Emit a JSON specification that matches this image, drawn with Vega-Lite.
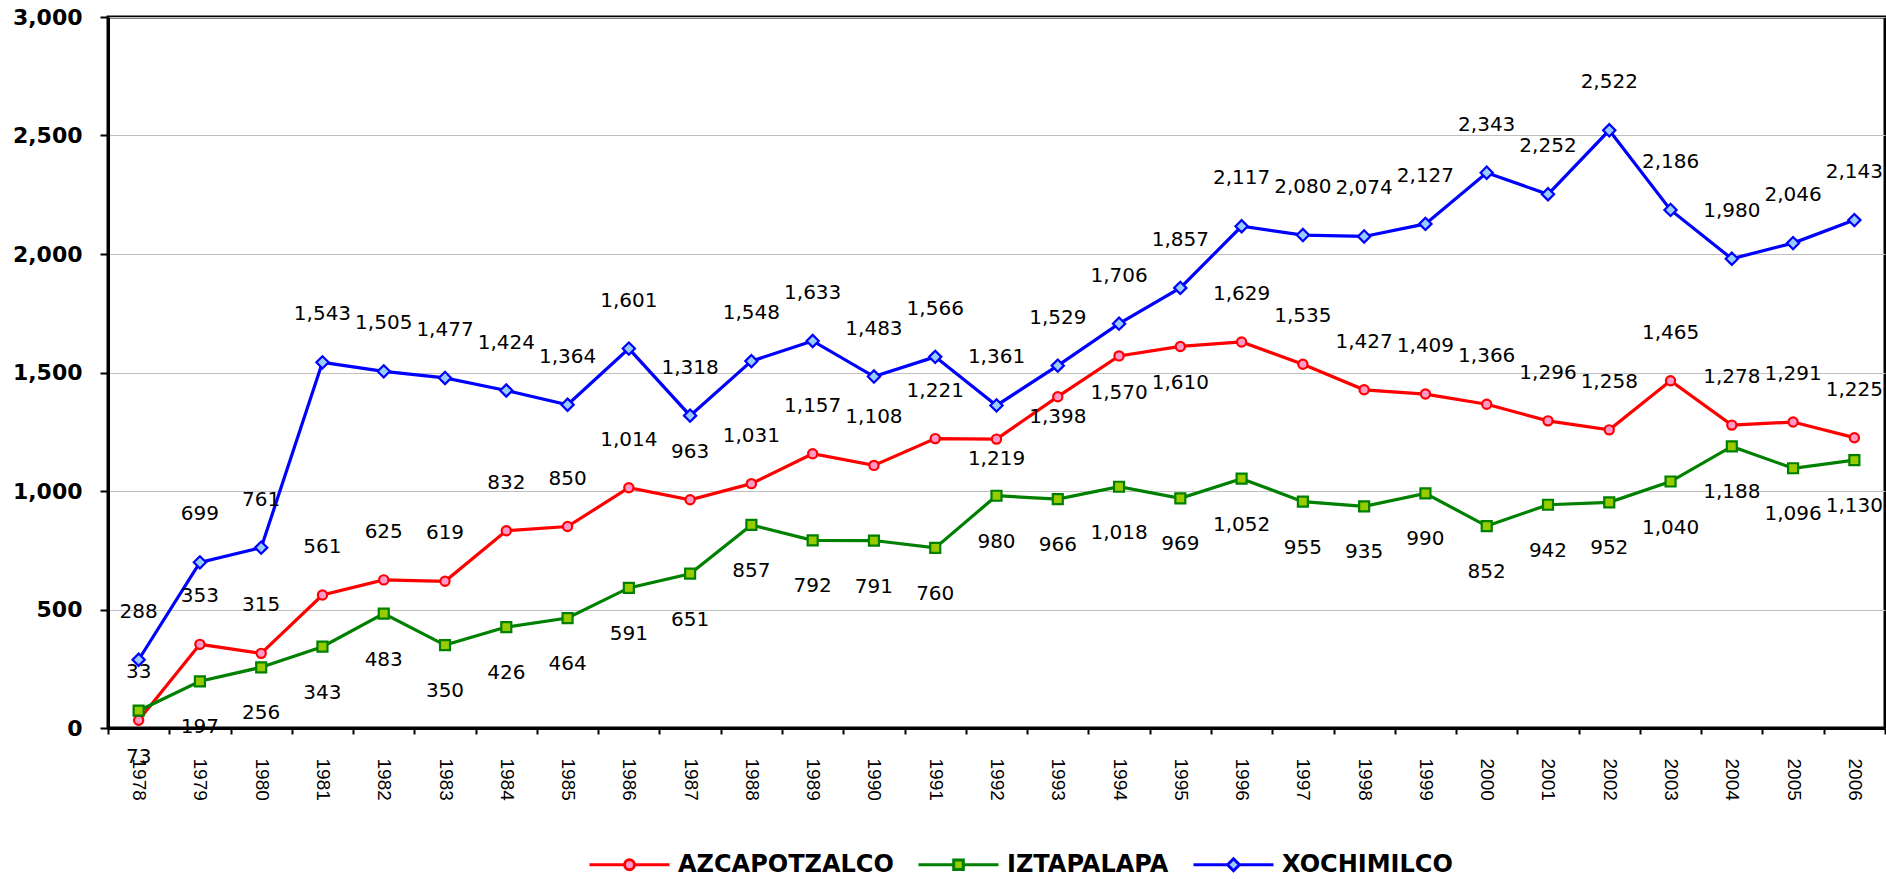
{
  "$schema": "https://vega.github.io/schema/vega-lite/v6.json",
  "width": 1777,
  "height": 711,
  "autosize": "none",
  "padding": {"left": 108, "top": 17, "right": 1, "bottom": 151},
  "background": "white",
  "config": {
    "view": {"stroke": "#000000", "strokeWidth": 3},
    "axis": {"labelColor": "#000000", "tickColor": "#000000", "domainColor": "#000000"},
    "legend": {
      "orient": "none",
      "legendX": 480,
      "legendY": 806,
      "direction": "horizontal",
      "padding": 0,
      "symbolSize": 6400,
      "symbolStrokeWidth": 3,
      "symbolOpacity": 1,
      "labelFont": "DejaVu Sans",
      "labelFontWeight": "bold",
      "labelFontSize": 24,
      "labelColor": "#000000",
      "labelOffset": 7,
      "labelLimit": 400,
      "columnPadding": 18
    }
  },
  "data": {
    "values": [
      {"year": 1978, "series": "AZCAPOTZALCO", "value": 33},
      {"year": 1979, "series": "AZCAPOTZALCO", "value": 353},
      {"year": 1980, "series": "AZCAPOTZALCO", "value": 315},
      {"year": 1981, "series": "AZCAPOTZALCO", "value": 561},
      {"year": 1982, "series": "AZCAPOTZALCO", "value": 625},
      {"year": 1983, "series": "AZCAPOTZALCO", "value": 619},
      {"year": 1984, "series": "AZCAPOTZALCO", "value": 832},
      {"year": 1985, "series": "AZCAPOTZALCO", "value": 850},
      {"year": 1986, "series": "AZCAPOTZALCO", "value": 1014},
      {"year": 1987, "series": "AZCAPOTZALCO", "value": 963},
      {"year": 1988, "series": "AZCAPOTZALCO", "value": 1031},
      {"year": 1989, "series": "AZCAPOTZALCO", "value": 1157},
      {"year": 1990, "series": "AZCAPOTZALCO", "value": 1108},
      {"year": 1991, "series": "AZCAPOTZALCO", "value": 1221},
      {"year": 1992, "series": "AZCAPOTZALCO", "value": 1219},
      {"year": 1993, "series": "AZCAPOTZALCO", "value": 1398},
      {"year": 1994, "series": "AZCAPOTZALCO", "value": 1570},
      {"year": 1995, "series": "AZCAPOTZALCO", "value": 1610},
      {"year": 1996, "series": "AZCAPOTZALCO", "value": 1629},
      {"year": 1997, "series": "AZCAPOTZALCO", "value": 1535},
      {"year": 1998, "series": "AZCAPOTZALCO", "value": 1427},
      {"year": 1999, "series": "AZCAPOTZALCO", "value": 1409},
      {"year": 2000, "series": "AZCAPOTZALCO", "value": 1366},
      {"year": 2001, "series": "AZCAPOTZALCO", "value": 1296},
      {"year": 2002, "series": "AZCAPOTZALCO", "value": 1258},
      {"year": 2003, "series": "AZCAPOTZALCO", "value": 1465},
      {"year": 2004, "series": "AZCAPOTZALCO", "value": 1278},
      {"year": 2005, "series": "AZCAPOTZALCO", "value": 1291},
      {"year": 2006, "series": "AZCAPOTZALCO", "value": 1225},
      {"year": 1978, "series": "IZTAPALAPA", "value": 73},
      {"year": 1979, "series": "IZTAPALAPA", "value": 197},
      {"year": 1980, "series": "IZTAPALAPA", "value": 256},
      {"year": 1981, "series": "IZTAPALAPA", "value": 343},
      {"year": 1982, "series": "IZTAPALAPA", "value": 483},
      {"year": 1983, "series": "IZTAPALAPA", "value": 350},
      {"year": 1984, "series": "IZTAPALAPA", "value": 426},
      {"year": 1985, "series": "IZTAPALAPA", "value": 464},
      {"year": 1986, "series": "IZTAPALAPA", "value": 591},
      {"year": 1987, "series": "IZTAPALAPA", "value": 651},
      {"year": 1988, "series": "IZTAPALAPA", "value": 857},
      {"year": 1989, "series": "IZTAPALAPA", "value": 792},
      {"year": 1990, "series": "IZTAPALAPA", "value": 791},
      {"year": 1991, "series": "IZTAPALAPA", "value": 760},
      {"year": 1992, "series": "IZTAPALAPA", "value": 980},
      {"year": 1993, "series": "IZTAPALAPA", "value": 966},
      {"year": 1994, "series": "IZTAPALAPA", "value": 1018},
      {"year": 1995, "series": "IZTAPALAPA", "value": 969},
      {"year": 1996, "series": "IZTAPALAPA", "value": 1052},
      {"year": 1997, "series": "IZTAPALAPA", "value": 955},
      {"year": 1998, "series": "IZTAPALAPA", "value": 935},
      {"year": 1999, "series": "IZTAPALAPA", "value": 990},
      {"year": 2000, "series": "IZTAPALAPA", "value": 852},
      {"year": 2001, "series": "IZTAPALAPA", "value": 942},
      {"year": 2002, "series": "IZTAPALAPA", "value": 952},
      {"year": 2003, "series": "IZTAPALAPA", "value": 1040},
      {"year": 2004, "series": "IZTAPALAPA", "value": 1188},
      {"year": 2005, "series": "IZTAPALAPA", "value": 1096},
      {"year": 2006, "series": "IZTAPALAPA", "value": 1130},
      {"year": 1978, "series": "XOCHIMILCO", "value": 288},
      {"year": 1979, "series": "XOCHIMILCO", "value": 699},
      {"year": 1980, "series": "XOCHIMILCO", "value": 761},
      {"year": 1981, "series": "XOCHIMILCO", "value": 1543},
      {"year": 1982, "series": "XOCHIMILCO", "value": 1505},
      {"year": 1983, "series": "XOCHIMILCO", "value": 1477},
      {"year": 1984, "series": "XOCHIMILCO", "value": 1424},
      {"year": 1985, "series": "XOCHIMILCO", "value": 1364},
      {"year": 1986, "series": "XOCHIMILCO", "value": 1601},
      {"year": 1987, "series": "XOCHIMILCO", "value": 1318},
      {"year": 1988, "series": "XOCHIMILCO", "value": 1548},
      {"year": 1989, "series": "XOCHIMILCO", "value": 1633},
      {"year": 1990, "series": "XOCHIMILCO", "value": 1483},
      {"year": 1991, "series": "XOCHIMILCO", "value": 1566},
      {"year": 1992, "series": "XOCHIMILCO", "value": 1361},
      {"year": 1993, "series": "XOCHIMILCO", "value": 1529},
      {"year": 1994, "series": "XOCHIMILCO", "value": 1706},
      {"year": 1995, "series": "XOCHIMILCO", "value": 1857},
      {"year": 1996, "series": "XOCHIMILCO", "value": 2117},
      {"year": 1997, "series": "XOCHIMILCO", "value": 2080},
      {"year": 1998, "series": "XOCHIMILCO", "value": 2074},
      {"year": 1999, "series": "XOCHIMILCO", "value": 2127},
      {"year": 2000, "series": "XOCHIMILCO", "value": 2343},
      {"year": 2001, "series": "XOCHIMILCO", "value": 2252},
      {"year": 2002, "series": "XOCHIMILCO", "value": 2522},
      {"year": 2003, "series": "XOCHIMILCO", "value": 2186},
      {"year": 2004, "series": "XOCHIMILCO", "value": 1980},
      {"year": 2005, "series": "XOCHIMILCO", "value": 2046},
      {"year": 2006, "series": "XOCHIMILCO", "value": 2143}
    ]
  },
  "resolve": {"scale": {"color": "independent", "fill": "independent", "shape": "independent"}},
  "encoding": {
    "x": {
      "field": "year",
      "type": "ordinal",
      "scale": {"type": "band", "paddingInner": 0, "paddingOuter": 0},
      "axis": {
        "title": null,
        "labelAngle": 90,
        "labelFont": "Liberation Sans",
        "labelFontSize": 19,
        "labelPadding": 24,
        "tickBand": "extent",
        "tickSize": 6,
        "tickWidth": 2,
        "domainWidth": 3,
        "grid": false,
        "labelOverlap": false
      }
    },
    "y": {
      "field": "value",
      "type": "quantitative",
      "scale": {"domain": [0, 3000], "nice": false},
      "axis": {
        "title": null,
        "values": [0, 500, 1000, 1500, 2000, 2500, 3000],
        "format": ",.0f",
        "labelFont": "DejaVu Sans",
        "labelFontWeight": "bold",
        "labelFontSize": 22,
        "labelPadding": 18,
        "tickSize": 8,
        "tickWidth": 2,
        "domainWidth": 3,
        "grid": true,
        "gridColor": "#c0c0c0",
        "gridWidth": 1,
        "labelOverlap": false,
        "labelBound": false
      }
    }
  },
  "layer": [
    {
      "mark": {"type": "line", "strokeWidth": 3.2},
      "encoding": {
        "color": {
          "field": "series",
          "type": "nominal",
          "scale": {"domain": ["AZCAPOTZALCO", "IZTAPALAPA", "XOCHIMILCO"], "range": ["#ff0000", "#008000", "#0000ff"]},
          "legend": null
        }
      }
    },
    {
      "mark": {"type": "point", "filled": false, "opacity": 1, "strokeWidth": 2.2},
      "encoding": {
        "color": {
          "field": "series",
          "type": "nominal",
          "scale": {"domain": ["AZCAPOTZALCO", "IZTAPALAPA", "XOCHIMILCO"], "range": ["#ff0000", "#008000", "#0000ff"]},
          "legend": null
        },
        "fill": {
          "field": "series",
          "type": "nominal",
          "scale": {"domain": ["AZCAPOTZALCO", "IZTAPALAPA", "XOCHIMILCO"], "range": ["#ff99cc", "#99cc00", "#99ccff"]},
          "legend": null
        },
        "shape": {
          "field": "series",
          "type": "nominal",
          "scale": {"domain": ["AZCAPOTZALCO", "IZTAPALAPA", "XOCHIMILCO"], "range": ["circle", "square", "diamond"]},
          "legend": null
        },
        "size": {
          "field": "series",
          "type": "ordinal",
          "scale": {"type": "ordinal", "domain": ["AZCAPOTZALCO", "IZTAPALAPA", "XOCHIMILCO"], "range": [85, 100, 150]},
          "legend": null
        }
      }
    },
    {
      "mark": {"type": "point", "filled": false, "opacity": 0, "strokeWidth": 3},
      "encoding": {
        "color": {
          "field": "series",
          "type": "nominal",
          "scale": {"domain": ["AZCAPOTZALCO", "IZTAPALAPA", "XOCHIMILCO"], "range": ["#ff0000", "#008000", "#0000ff"]},
          "legend": {"title": null}
        },
        "fill": {
          "field": "series",
          "type": "nominal",
          "scale": {"domain": ["AZCAPOTZALCO", "IZTAPALAPA", "XOCHIMILCO"], "range": ["#ff99cc", "#99cc00", "#99ccff"]},
          "legend": {"title": null}
        },
        "shape": {
          "field": "series",
          "type": "nominal",
          "scale": {
            "domain": ["AZCAPOTZALCO", "IZTAPALAPA", "XOCHIMILCO"],
            "range": [
              "M-1,0L-0.125,0M0.125,0L1,0M0.125,0A0.125,0.125,0,1,1,-0.125,0A0.125,0.125,0,1,1,0.125,0Z",
              "M-1,0L-0.12,0M0.12,0L1,0M-0.12,-0.12L0.12,-0.12L0.12,0.12L-0.12,0.12Z",
              "M-1,0L-0.15,0M0.15,0L1,0M-0.15,0L0,-0.15L0.15,0L0,0.15Z"
            ]
          },
          "legend": {"title": null}
        }
      }
    },
    {
      "transform": [{"filter": "datum.series === 'XOCHIMILCO' || (datum.series === 'AZCAPOTZALCO' && (datum.year < 1992 || datum.year > 1995))"}],
      "mark": {"type": "text", "dy": -48, "font": "DejaVu Sans", "fontSize": 20, "baseline": "middle", "color": "#000000"},
      "encoding": {"text": {"field": "value", "type": "quantitative", "format": ",.0f"}}
    },
    {
      "transform": [{"filter": "datum.series === 'IZTAPALAPA'"}],
      "mark": {"type": "text", "dy": 46, "font": "DejaVu Sans", "fontSize": 20, "baseline": "middle", "color": "#000000"},
      "encoding": {"text": {"field": "value", "type": "quantitative", "format": ",.0f"}}
    },
    {
      "transform": [{"filter": "datum.series === 'AZCAPOTZALCO' && (datum.year === 1992 || datum.year === 1993)"}],
      "mark": {"type": "text", "dy": 20, "font": "DejaVu Sans", "fontSize": 20, "baseline": "middle", "color": "#000000"},
      "encoding": {"text": {"field": "value", "type": "quantitative", "format": ",.0f"}}
    },
    {
      "transform": [{"filter": "datum.series === 'AZCAPOTZALCO' && (datum.year === 1994 || datum.year === 1995)"}],
      "mark": {"type": "text", "dy": 37, "font": "DejaVu Sans", "fontSize": 20, "baseline": "middle", "color": "#000000"},
      "encoding": {"text": {"field": "value", "type": "quantitative", "format": ",.0f"}}
    }
  ]
}
